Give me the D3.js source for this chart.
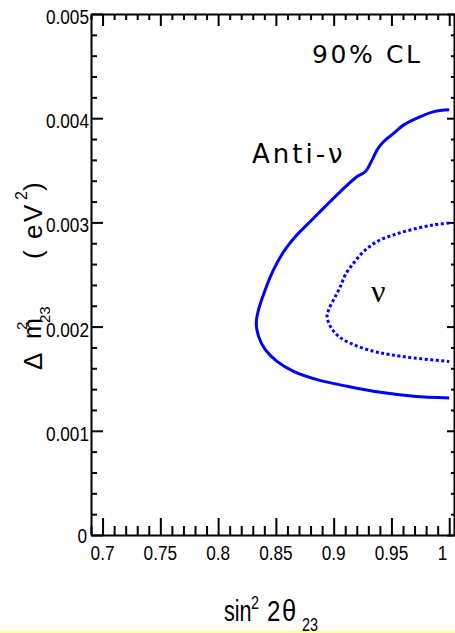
<!DOCTYPE html>
<html>
<head>
<meta charset="utf-8">
<script src="https://cdn.jsdelivr.net/npm/d3@7"></script>
<style>
  body { margin: 0; background: #fff; }
  svg { display: block; }
</style>
</head>
<body>
<div id="chart"></div>
<script>
// Contours à 90% CL dans le plan (sin²2θ23, Δm²23)

// contour anti-neutrino (trait plein)
const antiNuX = [1.0, 0.9867, 0.9751, 0.9607, 0.952, 0.9433, 0.9376, 0.9333, 0.9275, 0.9203,
  0.9058, 0.8913, 0.8798, 0.8683, 0.8567, 0.848, 0.8408, 0.835, 0.833, 0.835,
  0.8408, 0.851, 0.8653, 0.8856, 0.9116, 0.9405, 0.9693, 1.0];
const antiNuY = [0.00408, 0.004063, 0.004015, 0.003936, 0.003856, 0.003776, 0.003696, 0.0036, 0.003488, 0.00344,
  0.003296, 0.003137, 0.003009, 0.002881, 0.002718, 0.002546, 0.002354, 0.002162, 0.002035, 0.001906,
  0.001779, 0.001666, 0.00157, 0.001491, 0.001427, 0.001369, 0.001331, 0.001315];

// contour neutrino (pointillé)
const nuX = [1.0, 0.9867, 0.9693, 0.952, 0.9376, 0.926, 0.9173, 0.9101, 0.9058, 0.9015,
  0.8957, 0.8943, 0.8972, 0.9043, 0.9173, 0.9347, 0.9491, 0.9693, 1.0];
const nuY = [0.002993, 0.002977, 0.002936, 0.002881, 0.002817, 0.002721, 0.00261, 0.002498, 0.002385, 0.00229,
  0.002162, 0.002098, 0.002002, 0.001906, 0.001826, 0.001762, 0.001731, 0.001699, 0.001666];

// graduations
const xTicks = [0.7, 0.75, 0.8, 0.85, 0.9, 0.95, 1];
const xTickLabels = ["0.7", "0.75", "0.8", "0.85", "0.9", "0.95", "1"];
const yTicks = [0, 0.001, 0.002, 0.003, 0.004, 0.005];
const yTickLabels = ["0", "0.001", "0.002", "0.003", "0.004", "0.005"];

//---------------------------------------------------------------------------------------

const width = 455;
const height = 633;
const frame = { left: 91, right: 455, top: 14, bottom: 535 };

const svg = d3.select("#chart")
  .append("svg")
  .attr("width", width)
  .attr("height", height)
  .attr("viewBox", [0, 0, width, height]);

// échelles
const scaleX = d3.scaleLinear().domain([0.69, 1.005]).range([frame.left, frame.right]);
const scaleY = d3.scaleLinear().domain([0, 0.005]).range([frame.bottom, frame.top]);

// graduations mineures
const xMinor = d3.range(69, 101).map(d => d / 100).filter(d => Math.round(d * 100) % 5 !== 0);
const yMinor = d3.range(0, 26).map(d => d * 0.0002).filter((d, i) => i % 5 !== 0);

//---------------------------------------------------------------------------------------

// axes
function drawAxis(axisFn, scale, pos, major, minor, lenMaj, lenMin) {
  const g = svg.append("g").attr("transform", pos);
  g.call(axisFn(scale).tickValues(major).tickSize(-lenMaj).tickSizeOuter(0).tickFormat(""));
  g.append("g").call(axisFn(scale).tickValues(minor).tickSize(-lenMin).tickSizeOuter(0).tickFormat(""))
    .call(s => s.select(".domain").remove());
  g.selectAll("path, line").attr("stroke", "#000").attr("stroke-width", 2);
  return g;
}

drawAxis(d3.axisBottom, scaleX, `translate(0, ${frame.bottom})`, xTicks, xMinor, 17, 9);
drawAxis(d3.axisTop, scaleX, `translate(0, ${frame.top})`, xTicks, xMinor, 12, 6);
drawAxis(d3.axisLeft, scaleY, `translate(${frame.left}, 0)`, yTicks, yMinor, 12, 6);
drawAxis(d3.axisRight, scaleY, `translate(${frame.right - 1}, 0)`, yTicks, yMinor, 7, 3);

// libellés des graduations (police étroite)
svg.append("g")
  .selectAll("text")
  .data(xTicks)
  .join("text")
  .attr("transform", d => d === 1
    ? `translate(${scaleX(d) - 2}, 560) scale(0.84, 1)`
    : `translate(${scaleX(d)}, 560) scale(0.84, 1)`)
  .attr("text-anchor", d => d === 1 ? "end" : "middle")
  .attr("font-family", "Liberation Sans, Arial, sans-serif")
  .attr("font-size", "20.5px")
  .attr("fill", "#000")
  .text((d, i) => xTickLabels[i]);

svg.append("g")
  .selectAll("text")
  .data(yTicks)
  .join("text")
  .attr("transform", d => d === 0
    ? `translate(87, 543) scale(0.84, 1)`
    : `translate(89, ${scaleY(d) + 10}) scale(0.84, 1)`)
  .attr("text-anchor", "end")
  .attr("font-family", "Liberation Sans, Arial, sans-serif")
  .attr("font-size", "20.5px")
  .attr("fill", "#000")
  .text((d, i) => yTickLabels[i]);

//---------------------------------------------------------------------------------------

// contours
const line = d3.line()
  .x(d => scaleX(d[0]))
  .y(d => scaleY(d[1]))
  .curve(d3.curveCatmullRom);

svg.append("path")
  .datum(antiNuX.map((x, i) => [x, antiNuY[i]]))
  .attr("d", line)
  .attr("fill", "none")
  .attr("stroke", "#0000ff")
  .attr("stroke-width", 3);

svg.append("path")
  .datum(nuX.map((x, i) => [x, nuY[i]]))
  .attr("d", line)
  .attr("fill", "none")
  .attr("stroke", "#0000ff")
  .attr("stroke-width", 3)
  .attr("stroke-dasharray", "3,2.5");

//---------------------------------------------------------------------------------------

// annotations
svg.append("text")
  .attr("x", 312).attr("y", 63)
  .attr("font-family", "DejaVu Sans, Verdana, sans-serif")
  .attr("font-size", "25px")
  .attr("letter-spacing", "2.6px")
  .text("90% CL");

svg.append("text")
  .attr("x", 252).attr("y", 163)
  .attr("font-family", "DejaVu Sans, Verdana, sans-serif")
  .attr("font-size", "26px")
  .attr("letter-spacing", "3px")
  .text("Anti-ν");

svg.append("text")
  .attr("x", 371).attr("y", 302)
  .attr("font-family", "Liberation Serif, Times New Roman, serif")
  .attr("font-size", "32px")
  .text("ν");

// titre axe X : sin²2θ23
const xLab = [
  { t: "sin", x: 224, y: 621, fs: 30, sx: 0.72 },
  { t: "2", x: 251, y: 609, fs: 18, sx: 0.8 },
  { t: "2", x: 267, y: 621, fs: 30, sx: 0.8 },
  { t: "θ", x: 282, y: 621, fs: 30, sx: 0.85 },
  { t: "23", x: 302, y: 631, fs: 18, sx: 0.8 }
];
svg.append("g")
  .selectAll("text")
  .data(xLab)
  .join("text")
  .attr("transform", d => `translate(${d.x}, ${d.y}) scale(${d.sx}, 1)`)
  .attr("font-family", "Liberation Sans, Arial, sans-serif")
  .attr("font-size", d => d.fs + "px")
  .text(d => d.t);

// titre axe Y : Δm²23 (eV²)
const yLab = [
  { t: "Δ", x: -370, y: 0, fs: 26 },
  { t: "m", x: -339, y: -1, fs: 25 },
  { t: "2", x: -330, y: -15, fs: 15 },
  { t: "23", x: -323, y: 8, fs: 15 },
  { t: "(", x: -259, y: 0, fs: 26 },
  { t: "e", x: -239, y: 0, fs: 26 },
  { t: "V", x: -222, y: 0, fs: 26 },
  { t: "2", x: -200, y: -15, fs: 16 },
  { t: ")", x: -191, y: 0, fs: 26 }
];
svg.append("g")
  .attr("transform", "translate(42, 0) rotate(-90)")
  .selectAll("text")
  .data(yLab)
  .join("text")
  .attr("x", d => d.x)
  .attr("y", d => d.y)
  .attr("font-family", "Liberation Sans, Arial, sans-serif")
  .attr("font-size", d => d.fs + "px")
  .text(d => d.t);

// liseré jaune en bas
svg.append("rect")
  .attr("x", 0).attr("y", 631)
  .attr("width", width).attr("height", 2)
  .attr("fill", "#ffff99");
</script>
</body>
</html>
